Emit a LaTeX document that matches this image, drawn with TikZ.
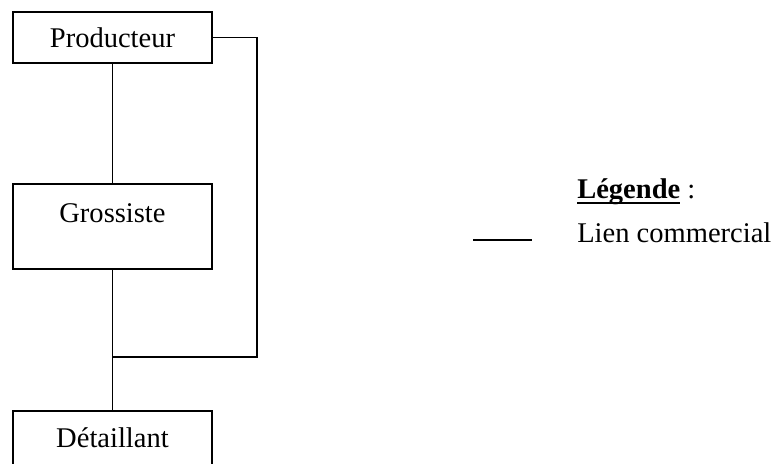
\documentclass[tikz,border=0pt]{standalone}
\usepackage{fontspec}
\setmainfont{Liberation Serif}
\newcommand\myul[1]{\setbox0\hbox{#1}\rlap{\rule[-4.6pt]{\wd0}{1.3pt}}\box0\relax}
\begin{document}
\begin{tikzpicture}[x=0.75pt,y=-0.75pt,
  every node/.style={font=\fontsize{21.4}{25}\selectfont, inner sep=0pt},
  box/.style={draw, line width=1.4pt, minimum width=149.25pt},
  conn/.style={line width=1.4pt}]
\path[use as bounding box] (0,0) rectangle (776,464);
\clip (0,0) rectangle (776,464);
% boxes
\node[box, minimum height=38.25pt] (prod) at (112.5,37.5) {Producteur};
\node[box, minimum height=63.75pt] (gros) at (112.5,226.5) {};
\node (grostext) at (112.5,213) {Grossiste};
\node[box, minimum height=44.25pt] (det) at (112.5,440.5) {};
\node (dettext) at (112.5,438) {Détaillant};
% connectors
\coordinate (c1) at (257,37.5);
\coordinate (c2) at (257,357);
\coordinate (j) at (112.5,357);
\draw[conn] (prod.south) -- (gros.north);
\draw[conn] (gros.south) -- (det.north);
\draw[conn] (prod.east) -- (c1) -- (c2) -- (j);
% legend
\node[anchor=base west] (leg) at (577,198) {\myul{\textbf{Légende}}\ :};
\coordinate (l1) at (473,240);
\coordinate (l2) at (532,240);
\draw[conn] (l1) -- (l2);
\node[anchor=base west] (lien) at (577,242) {Lien commercial};
\end{tikzpicture}
\end{document}
